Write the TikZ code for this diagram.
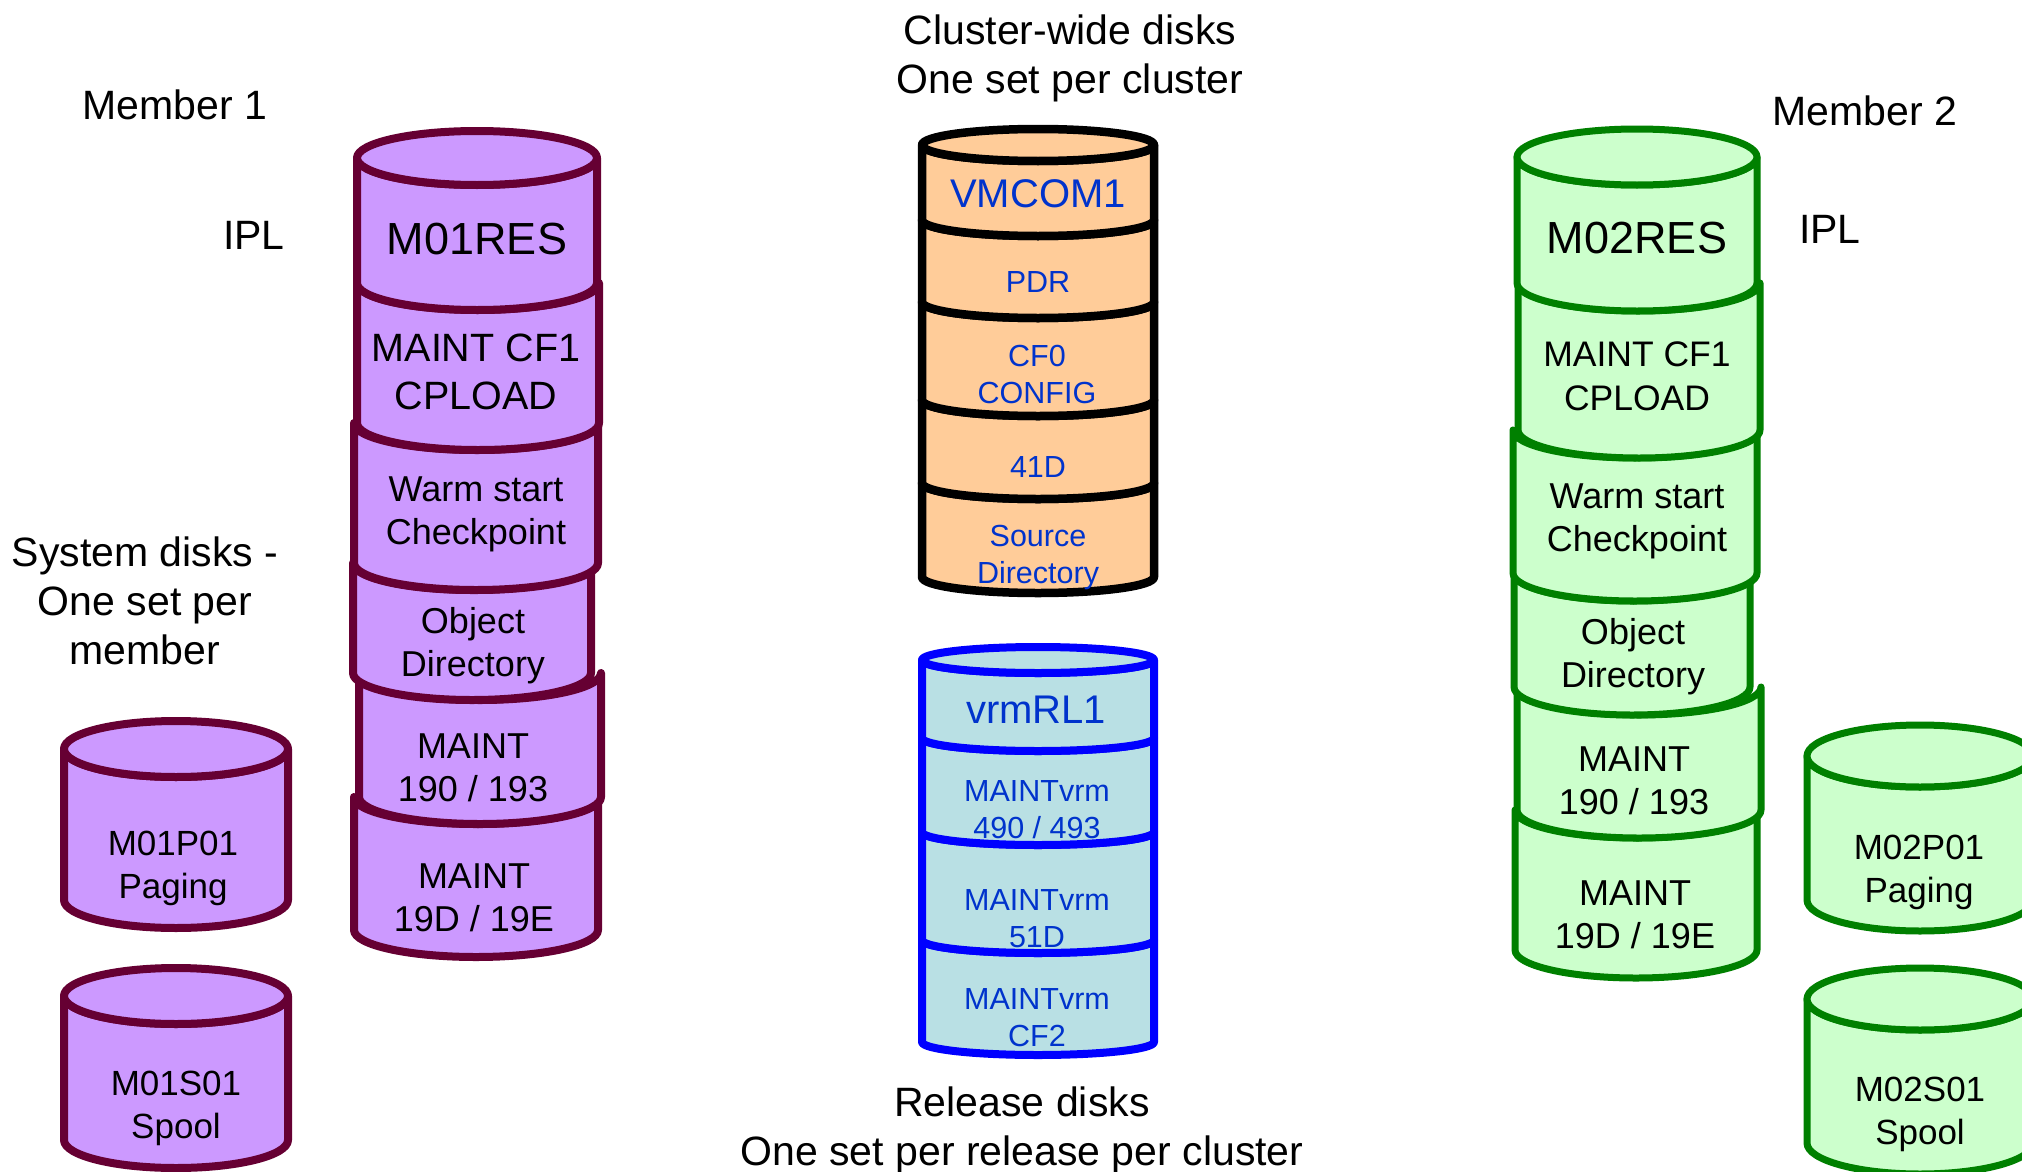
\documentclass[tikz,border=0pt]{standalone}
\usepackage{fontspec}
\setmainfont{Liberation Sans}
\definecolor{purplefill}{HTML}{CC99FF}
\definecolor{purpleline}{HTML}{660033}
\definecolor{greenfill}{HTML}{CCFFCC}
\definecolor{greenline}{HTML}{008000}
\definecolor{orangefill}{HTML}{FFCC99}
\definecolor{bluefill}{HTML}{B9E0E4}
\definecolor{blueline}{HTML}{0000FF}
\definecolor{bluetext}{HTML}{0033CC}
% segment of a stacked disk: style, cx, rx, ry, ytop, ybot (y measured downward)
\newcommand{\dseg}[6]{%
  \path[#1] ({#2-#3},{-#5}) -- ({#2-#3},{-#6})
    arc[start angle=180,end angle=360,x radius=#3pt,y radius=#4pt]
    -- ({#2+#3},{-#5})
    arc[start angle=360,end angle=180,x radius=#3pt,y radius=#4pt] -- cycle;}
% top ellipse: style, cx, rx, ry, y
\newcommand{\dtop}[5]{%
  \path[#1] (#2,{-#5}) ellipse[x radius=#3pt,y radius=#4pt];}
\tikzset{
  purp/.style={draw=purpleline, fill=purplefill, line width=8pt, line join=round},
  grn/.style={draw=greenline, fill=greenfill, line width=7pt, line join=round},
  orng/.style={draw=black, fill=orangefill, line width=8.5pt, line join=round},
  blu/.style={draw=blueline, fill=bluefill, line width=8pt, line join=round},
  txt/.style={inner sep=0pt, align=center, text=black},
  btxt/.style={inner sep=0pt, align=center, text=bluetext},
  lbl/.style={inner sep=0pt, align=center, text=black, font=\fontsize{41}{49}\selectfont},
  fbig/.style={font=\fontsize{45}{54}\selectfont},
  fmid/.style={font=\fontsize{39.5}{48}\selectfont},
  fsm/.style={font=\fontsize{36}{43}\selectfont},
  fdisk/.style={font=\fontsize{35}{43}\selectfont},
  fvol/.style={font=\fontsize{40}{48}\selectfont},
  fblue/.style={font=\fontsize{30.5}{37}\selectfont},
}
\begin{document}
\begin{tikzpicture}[x=1pt,y=1pt]
\useasboundingbox (0,0) rectangle (2022,-1172);
\clip (0,0) rectangle (2022,-1172);

% ---------- Member 1 stack ----------
\dseg{purp}{476}{122}{27}{797}{930}
\dseg{purp}{480}{121}{27}{673}{797}
\dseg{purp}{472}{119}{27}{563}{673}
\dseg{purp}{476}{122}{27}{423}{563}
\dseg{purp}{478}{121}{27}{283}{423}
\dseg{purp}{477}{120}{27}{158}{283}
\dtop{purp}{477}{120}{27}{158}

% ---------- Member 1 small disks ----------
\dseg{purp}{176}{112}{28}{749}{900}
\dtop{purp}{176}{112}{28}{749}
\dseg{purp}{176}{112}{28}{996}{1140}
\dtop{purp}{176}{112}{28}{996}

% ---------- Member 2 stack ----------
\dseg{grn}{1636}{121}{28}{810}{950}
\dseg{grn}{1639}{122}{28}{687}{810}
\dseg{grn}{1632}{118}{28}{573}{687}
\dseg{grn}{1635}{122}{28}{430}{573}
\dseg{grn}{1639}{121}{28}{283}{430}
\dseg{grn}{1637}{120}{28}{157}{283}
\dtop{grn}{1637}{120}{28}{157}

% ---------- Member 2 small disks ----------
\dseg{grn}{1920}{113}{31}{756}{900}
\dtop{grn}{1920}{113}{31}{756}
\dseg{grn}{1920}{113}{31}{999}{1143}
\dtop{grn}{1920}{113}{31}{999}

% ---------- Cluster-wide stack ----------
\dseg{orng}{1038}{116}{16}{483}{577}
\dseg{orng}{1038}{116}{16}{400}{483}
\dseg{orng}{1038}{116}{16}{302}{400}
\dseg{orng}{1038}{116}{16}{220}{302}
\dseg{orng}{1038}{116}{16}{145}{220}
\dtop{orng}{1038}{116}{16}{145}

% ---------- Release stack ----------
\dseg{blu}{1038}{116}{13}{940}{1042}
\dseg{blu}{1038}{116}{13}{832}{940}
\dseg{blu}{1038}{116}{13}{738}{832}
\dseg{blu}{1038}{116}{13}{660}{738}
\dtop{blu}{1038}{116}{13}{660}

% ---------- texts: Member 1 ----------
\node[txt,fbig] (m01res) at (477,-239) {M01RES};
\node[txt,fmid] (m01cf1) at (476,-372) {MAINT CF1\\CPLOAD};
\node[txt,fsm] (m01warm) at (476,-514) {Warm start\\Checkpoint};
\node[txt,fsm] (m01obj) at (473,-646) {Object\\Directory};
\node[txt,fsm] (m01m190) at (473,-768) {MAINT\\190 / 193};
\node[txt,fsm] (m01m19d) at (474,-898) {MAINT\\19D / 19E};
\node[txt,fdisk] (m01p01) at (173,-868) {M01P01\\Paging};
\node[txt,fdisk] (m01s01) at (176,-1108) {M01S01\\Spool};

% ---------- texts: Member 2 ----------
\node[txt,fbig] (m02res) at (1637,-238) {M02RES};
\node[txt,font=\fontsize{35.5}{44}\selectfont] (m02cf1) at (1637,-376) {MAINT CF1\\CPLOAD};
\node[txt,fsm] (m02warm) at (1637,-521) {Warm start\\Checkpoint};
\node[txt,fsm] (m02obj) at (1633,-657) {Object\\Directory};
\node[txt,fsm] (m02m190) at (1634,-781) {MAINT\\190 / 193};
\node[txt,fsm] (m02m19d) at (1635,-915) {MAINT\\19D / 19E};
\node[txt,fdisk] (m02p01) at (1919,-872) {M02P01\\Paging};
\node[txt,fdisk] (m02s01) at (1920,-1114) {M02S01\\Spool};

% ---------- texts: cluster-wide ----------
\node[btxt,fvol] (vmcom) at (1038,-194) {VMCOM1};
\node[btxt,fblue] (pdr) at (1038,-282) {PDR};
\node[btxt,fblue] (cf0) at (1037,-374) {CF0\\CONFIG};
\node[btxt,fblue] (d41) at (1038,-467) {41D};
\node[btxt,fblue] (srcdir) at (1038,-558) {Source\\Directory};

% ---------- texts: release ----------
\node[btxt,fvol] (vrmrl) at (1036,-710) {vrmRL1};
\node[btxt,fblue] (m490) at (1037,-810) {MAINTvrm\\490 / 493};
\node[btxt,fblue] (m51d) at (1037,-919) {MAINTvrm\\51D};
\node[btxt,fblue] (mcf2) at (1037,-1018) {MAINTvrm\\CF2};

% ---------- labels ----------
\node[lbl] (member1) at (175,-105) {Member 1};
\node[lbl] (ipl1) at (254,-235) {IPL};
\node[lbl] (sysdisks) at (145,-601) {System disks -\\One set per\\member};
\node[lbl] (member2) at (1865,-111) {Member 2};
\node[lbl] (ipl2) at (1830,-229) {IPL};
\node[lbl] (cluster) at (1070,-58) {Cluster-wide disks\\One set per cluster};
\node[lbl] (release) at (1022,-1130) {Release disks\\One set per release per cluster};
\end{tikzpicture}
\end{document}
